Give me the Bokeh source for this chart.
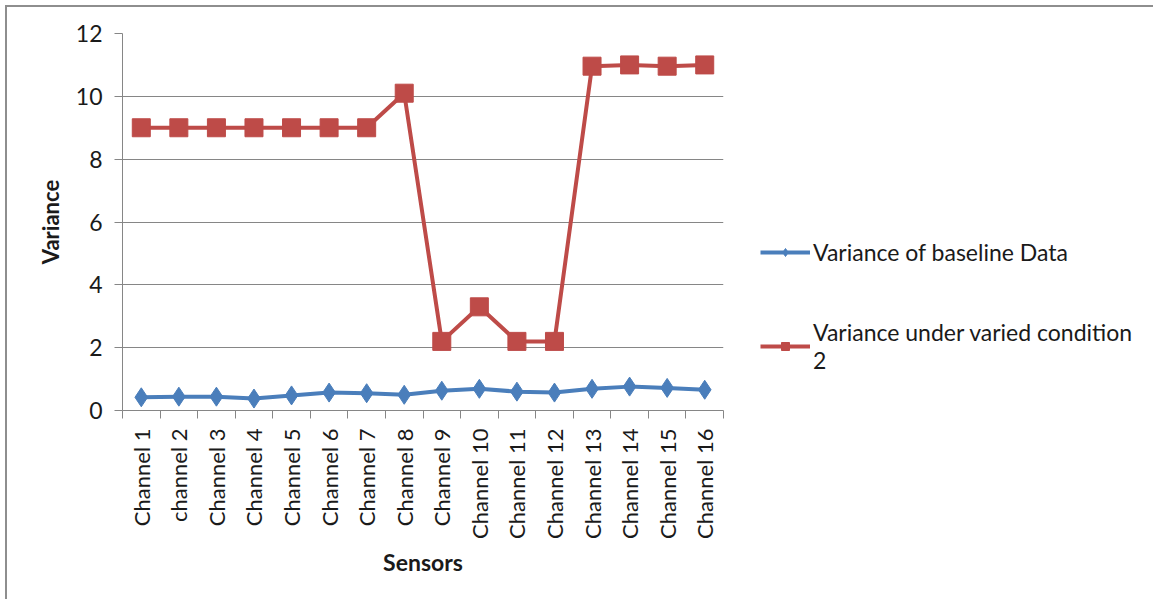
import math
from bokeh.plotting import figure
from bokeh.models import FixedTicker, Legend, LegendItem, Range1d, ColumnDataSource
from bokeh.embed import file_html
from bokeh.resources import INLINE

channels = ["Channel 1", "channel 2", "Channel 3", "Channel 4", "Channel 5", "Channel 6",
            "Channel 7", "Channel 8", "Channel 9", "Channel 10", "Channel 11", "Channel 12",
            "Channel 13", "Channel 14", "Channel 15", "Channel 16"]
baseline = [0.42, 0.44, 0.44, 0.38, 0.48, 0.57, 0.55, 0.50, 0.63, 0.69, 0.60, 0.57,
            0.69, 0.76, 0.72, 0.66]
varied = [9.0, 9.0, 9.0, 9.0, 9.0, 9.0, 9.0, 10.1, 2.2, 3.3, 2.2, 2.2,
          10.96, 11.0, 10.96, 11.0]
y_ticks = [0, 2, 4, 6, 8, 10, 12]
series_names = ["Variance of baseline Data", "Variance under varied condition\n2"]

xpos = [i + 0.5 for i in range(len(channels))]
src = ColumnDataSource(dict(x=xpos, base=baseline, var=varied))

FONT = "Lato"
GRID = "#868686"
BLUE = "#4A7EBB"
RED = "#BE4B48"

p = figure(frame_width=601, frame_height=377, output_backend="svg", toolbar_location=None,
           x_range=Range1d(0, len(channels)), y_range=Range1d(0, 12),
           min_border_left=115, min_border_right=428, min_border_top=26, min_border_bottom=189)
p.outline_line_color = None
p.styles = {"margin-left": "5px", "margin-top": "5px",
            "border-left": "2px solid #8e8e8e", "border-top": "2px solid #8e8e8e"}

# x axis
xa = p.xaxis[0]
xa.ticker = FixedTicker(ticks=xpos, minor_ticks=list(range(len(channels) + 1)))
xa.major_label_overrides = {x: c for x, c in zip(xpos, channels)}
xa.major_label_orientation = math.pi / 2
xa.major_tick_line_color = None
xa.major_tick_out = 8
xa.major_tick_in = 0
xa.minor_tick_line_color = GRID
xa.minor_tick_out = 8
xa.minor_tick_in = 0
xa.axis_line_color = GRID
xa.major_label_standoff = 10
xa.major_label_text_font = FONT
xa.major_label_text_font_size = "22px"
xa.major_label_text_color = "#1a1a1a"
xa.axis_label = "Sensors"
xa.axis_label_text_font = FONT
xa.axis_label_text_font_style = "bold"
xa.axis_label_text_font_size = "23px"
xa.axis_label_text_color = "#1a1a1a"
xa.axis_label_standoff = 6

ya = p.yaxis[0]
ya.ticker = FixedTicker(ticks=y_ticks, minor_ticks=[])
ya.axis_line_color = GRID
ya.major_tick_line_color = GRID
ya.major_tick_out = 8
ya.major_tick_in = 0
ya.major_label_standoff = 12
ya.major_label_text_font = FONT
ya.major_label_text_font_size = "23px"
ya.major_label_text_color = "#1a1a1a"
ya.axis_label = "Variance"
ya.axis_label_text_font = FONT
ya.axis_label_text_font_style = "bold"
ya.axis_label_text_font_size = "22px"
ya.axis_label_text_color = "#1a1a1a"
ya.axis_label_standoff = 9

p.xgrid.grid_line_color = None
p.ygrid.grid_line_color = GRID
p.ygrid.ticker = FixedTicker(ticks=y_ticks)

l1 = p.line("x", "base", source=src, line_color=BLUE, line_width=4)
m1 = p.scatter("x", "base", source=src, marker="diamond", size=19, fill_color=BLUE, line_color=BLUE)
l2 = p.line("x", "var", source=src, line_color=RED, line_width=4)
m2 = p.scatter("x", "var", source=src, marker="square", size=18, fill_color=RED, line_color=RED)

legend = Legend(items=[LegendItem(label=series_names[0], renderers=[l1, m1]),
                       LegendItem(label=series_names[1], renderers=[l2, m2])],
                location=(37, 36), orientation="vertical",
                glyph_width=50, glyph_height=20, label_standoff=3, spacing=52,
                padding=0, margin=0, border_line_color=None, background_fill_alpha=0,
                label_text_font=FONT, label_text_font_size="23px", label_text_color="#1a1a1a")
p.add_layout(legend, "right")

open("out.html", "w").write(file_html(p, INLINE))
